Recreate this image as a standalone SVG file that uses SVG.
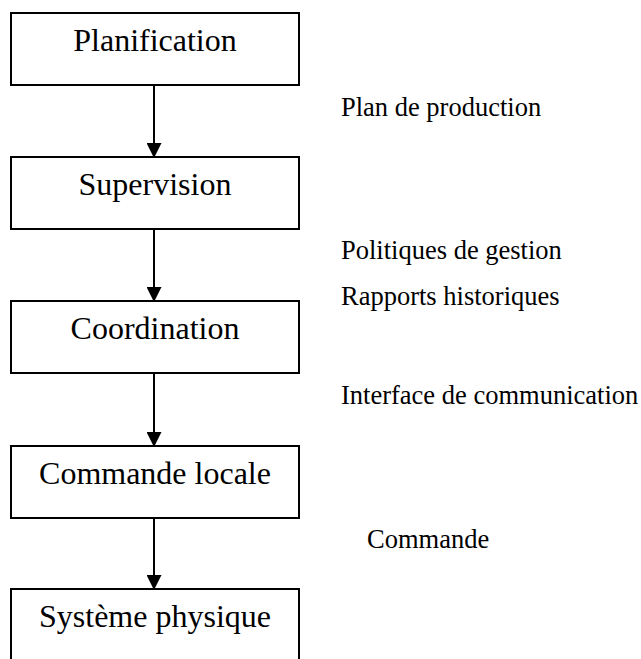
<svg xmlns="http://www.w3.org/2000/svg" width="641" height="659" viewBox="0 0 641 659">
<defs>
<style>
.box{fill:#fff;stroke:#000;stroke-width:2}
.t{font-family:"Liberation Serif","Times New Roman",serif;font-size:32px;fill:#000;text-anchor:middle}
.l{font-family:"Liberation Serif","Times New Roman",serif;font-size:26.5px;fill:#000}
.c{stroke:#000;stroke-width:2;fill:none}
</style>
<marker id="ah" markerWidth="16" markerHeight="15" refX="15" refY="8" orient="auto" markerUnits="userSpaceOnUse" viewBox="0 0 16 16">
<path d="M0,0 L16,8 L0,16 Z" fill="#000"/>
</marker>
</defs>
<rect width="641" height="659" fill="#fff"/>
<g id="n1"><rect class="box" x="11" y="13" width="288" height="72"/><text class="t" x="155" y="51">Planification</text></g>
<g id="n2"><rect class="box" x="11" y="157" width="288" height="72"/><text class="t" x="155" y="195">Supervision</text></g>
<g id="n3"><rect class="box" x="11" y="301" width="288" height="72"/><text class="t" x="155" y="339">Coordination</text></g>
<g id="n4"><rect class="box" x="11" y="446" width="288" height="72"/><text class="t" x="155" y="484">Commande locale</text></g>
<g id="n5"><rect class="box" x="11" y="589" width="288" height="72"/><text class="t" x="155" y="627">Système physique</text></g>
<g id="connectors">
<line class="c" x1="154" y1="85" x2="154" y2="157" marker-end="url(#ah)"/>
<line class="c" x1="154" y1="229" x2="154" y2="301" marker-end="url(#ah)"/>
<line class="c" x1="154" y1="373" x2="154" y2="446" marker-end="url(#ah)"/>
<line class="c" x1="154" y1="518" x2="154" y2="589" marker-end="url(#ah)"/>
</g>
<g id="labels">
<text class="l" x="341" y="116">Plan de production</text>
<text class="l" x="341" y="259">Politiques de gestion</text>
<text class="l" x="341" y="305">Rapports historiques</text>
<text class="l" x="341" y="404">Interface de communication</text>
<text class="l" x="367" y="548">Commande</text>
</g>
</svg>
